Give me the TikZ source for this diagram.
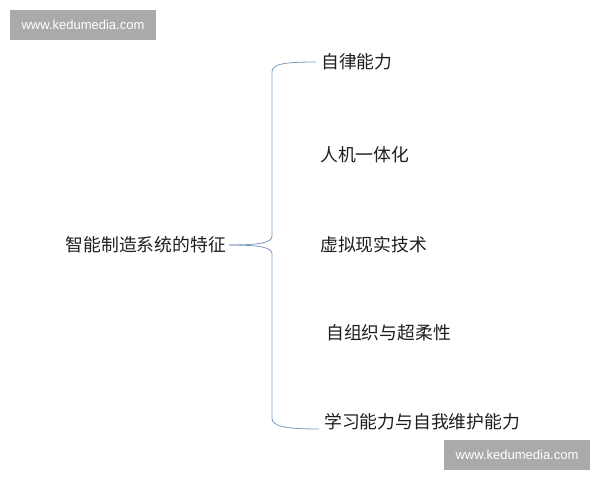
\documentclass[tikz,border=0pt]{standalone}
\usepackage{fontspec}
\setmainfont{Liberation Sans}
\newfontfamily\cjk{Noto Sans CJK SC}
\usepackage{tikz}
\definecolor{bracecol}{RGB}{125,155,195}
\definecolor{markgray}{RGB}{170,170,170}
\definecolor{txtcol}{RGB}{30,30,30}

\begin{document}
\begin{tikzpicture}
		[x=1pt, y=-1pt,
		topic/.style={inner sep=3pt, text=txtcol, font=\cjk\fontsize{17.8}{20}\selectfont},
		item/.style={topic, anchor=west, inner sep=5pt},
		brace/.style={draw=bracecol, line width=0.8pt},
		stamp/.style={fill=markgray, text=white, inner sep=0pt, minimum width=146pt, minimum height=30pt, font=\fontsize{13}{15}\selectfont}]
		\useasboundingbox (0,0) rectangle (600,480);
		\node[stamp] (wmtop) at (83,25) {www.kedumedia.com};
		\node[stamp] (wmbot) at (517,455) {www.kedumedia.com};

		\node[topic, anchor=east] (root) at (229,245) {智能制造系统的特征};
		\node[item] (c1) at (316,62) {自律能力};
		\node[item] (c2) at (315,155) {人机一体化};
		\node[item] (c3) at (315,245) {虚拟现实技术};
		\node[item] (c4) at (321,333) {自组织与超柔性};
		\node[item] (c5) at (319,422) {学习能力与自我维护能力};

		\draw[brace] (root.east) .. controls (258,245) and (272,243) .. (272,236) -- (272,72)
			.. controls (272,64) and (284,62) .. (c1.west);
		\draw[brace] (root.east) .. controls (258,245) and (272,247) .. (272,254) -- (272,418)
			.. controls (272,426) and (284,429) .. ([yshift=-7pt]c5.west);
	\end{tikzpicture}
\end{document}
